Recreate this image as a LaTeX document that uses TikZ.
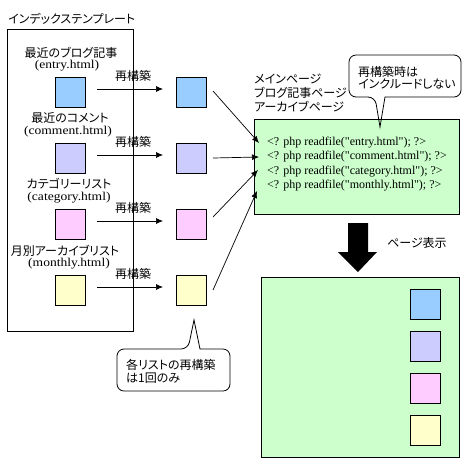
\documentclass[tikz,border=0pt]{standalone}
\usepackage{fontspec}
\setmainfont{Liberation Serif}
\newfontfamily\lat[Ligatures={TeXOff,CommonOff}]{Liberation Serif}
\newfontfamily\latw[FakeStretch=1.13,Ligatures={TeXOff,CommonOff}]{Liberation Serif}
\newfontfamily\jp[RawFeature=+palt]{Noto Sans CJK JP}
\usetikzlibrary{arrows.meta}
\definecolor{cblue}{HTML}{99CCFF}
\definecolor{cviolet}{HTML}{CCCCFF}
\definecolor{cpink}{HTML}{FFCCFF}
\definecolor{cyellow}{HTML}{FFFFCC}
\definecolor{cgreen}{HTML}{CCFFCC}
\tikzset{
  sq/.style={draw, line width=0.8pt, minimum size=30pt, inner sep=0pt, outer sep=0pt},
  jt/.style={font=\jp\fontsize{12}{14}\selectfont, inner sep=0pt},
  lt/.style={font=\lat\fontsize{12}{14}\selectfont, inner sep=0pt},
  fnt/.style={font=\latw\fontsize{12}{14}\selectfont, inner sep=0pt},
  arr/.style={-{Latex[length=7pt,width=6pt]}, line width=0.7pt},
  boxline/.style={draw, line width=0.8pt, inner sep=0pt, outer sep=0pt},
  callout/.style={line width=0.8pt, rounded corners=7pt}
}
\begin{document}
\begin{tikzpicture}[x=1pt,y=-1pt]
\useasboundingbox (0,0) rectangle (470,467);
\fill[white] (0,0) rectangle (470,467);

% left frame
\node[jt, anchor=west] (title) at (8,19) {インデックステンプレート};
\node[boxline, minimum width=126pt, minimum height=302pt] (frame) at (70,180) {};

% left labels
\node[jt] (t1) at (71,53) {最近のブログ記事};
\node[fnt] (f1) at (67,66) {(entry.html)};
\node[jt] (t2) at (70,118) {最近のコメント};
\node[fnt] (f2) at (68,132) {(comment.html)};
\node[jt] (t3) at (69,184) {カテゴリーリスト};
\node[fnt] (f3) at (69,198) {(category.html)};
\node[jt] (t4) at (65,251) {月別アーカイブリスト};
\node[fnt] (f4) at (69,264) {(monthly.html)};

% left squares
\node[sq, fill=cblue]   (l1) at (70,92)  {};
\node[sq, fill=cviolet] (l2) at (70,158) {};
\node[sq, fill=cpink]   (l3) at (70,224) {};
\node[sq, fill=cyellow] (l4) at (70,290) {};

% middle squares
\node[sq, fill=cblue]   (m1) at (191,92)  {};
\node[sq, fill=cviolet] (m2) at (191,158) {};
\node[sq, fill=cpink]   (m3) at (191,224) {};
\node[sq, fill=cyellow] (m4) at (191,290) {};

% rebuild arrows
\foreach \i in {1,2,3,4}{
  \draw[arr] ([xshift=12pt,yshift=3pt]l\i.east) -- ([xshift=-13pt,yshift=3pt]m\i.west);
}
\node[jt] (r1) at (133,76)  {再構築};
\node[jt] (r2) at (133,142) {再構築};
\node[jt] (r3) at (133,208) {再構築};
\node[jt] (r4) at (133,274) {再構築};

% main page box
\node[jt, anchor=west, align=left] (pages) at (254,93) {メインページ\\ブログ記事ページ\\アーカイブページ};
\node[boxline, fill=cgreen, minimum width=205pt, minimum height=95pt] (g1) at (356.5,166.5) {};
\node[lt, anchor=west] (c1) at (267,143) {<? php readfile("entry.html"); ?>};
\node[lt, anchor=west] (c2) at (267,157) {<? php readfile("comment.html"); ?>};
\node[lt, anchor=west] (c3) at (267,172) {<? php readfile("category.html"); ?>};
\node[lt, anchor=west] (c4) at (267,186) {<? php readfile("monthly.html"); ?>};

% connectors to include lines
\draw[arr] ([xshift=7pt,yshift=1pt]m1.east) -- ([xshift=-8pt]c1.west);
\draw[arr] ([xshift=7pt]m2.east) -- ([xshift=-8pt]c2.west);
\draw[arr] ([xshift=7pt,yshift=7pt]m3.east) -- ([xshift=-9pt,yshift=2pt]c3.west);
\draw[arr] ([xshift=7pt]m4.east) -- ([xshift=-10pt,yshift=-5pt]c4.west);

% top callout
\node[jt, anchor=west, align=left, font=\jp\fontsize{12}{12.5}\selectfont] (note1) at (358,77.5) {再構築時は\\インクルードしない};
\draw[callout] (385,97) -- (461,97) -- (461,55) -- (349,55) -- (349,97) -- (375,97) [sharp corners] -- (380,127) -- cycle;

% bottom callout
\node[jt, anchor=west, align=left, font=\jp\fontsize{12}{13}\selectfont] (note2) at (126,371.5) {各リストの再構築\\は1回のみ};
\draw[callout] (200,349) -- (230,349) -- (230,391) -- (117,391) -- (117,349) -- (188,349) [sharp corners] -- (194,320) -- cycle;

% big arrow
\fill[black] (348,223) -- (368,223) -- (368,252) -- (377,252) -- (358,272) -- (338,252) -- (348,252) -- cycle;
\node[jt, anchor=west] (disp) at (387,243) {ページ表示};

% displayed page
\node[boxline, fill=cgreen, minimum width=198pt, minimum height=180pt] (g2) at (360,367) {};
\node[sq, fill=cblue]   (b1) at (425.5,304) {};
\node[sq, fill=cviolet] (b2) at (425.5,346) {};
\node[sq, fill=cpink]   (b3) at (425.5,388) {};
\node[sq, fill=cyellow] (b4) at (425.5,430) {};
\end{tikzpicture}
\end{document}
